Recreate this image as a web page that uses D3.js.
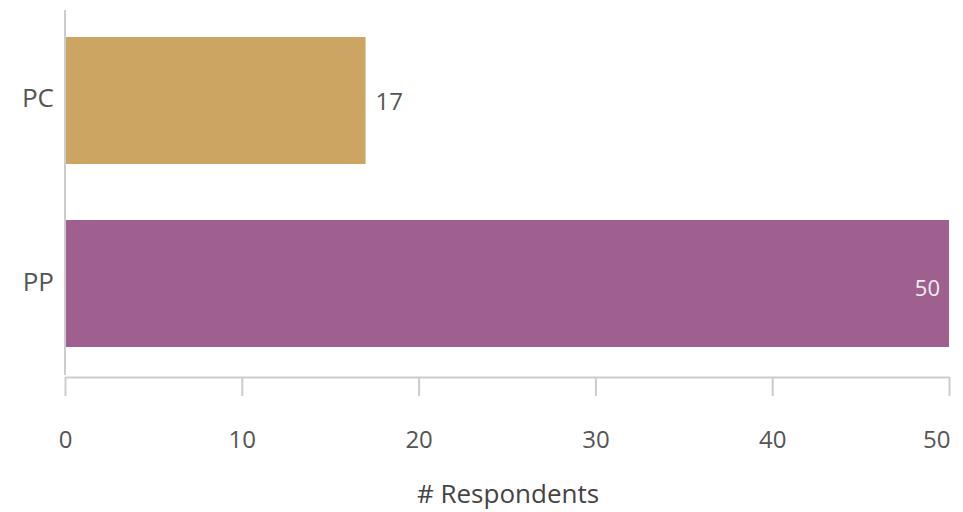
<!DOCTYPE html>
<html><head><meta charset="utf-8">
<script src="https://cdn.jsdelivr.net/npm/d3@7/dist/d3.min.js"></script>
<style>body{margin:0;background:#fff;}text{font-family:"Open Sans","Noto Sans",sans-serif;}</style>
</head><body>
<svg id="c" width="963" height="512"></svg>
<script>
const categories = ["PC", "PP"];
const values = [17, 50];
const colors = ["#CDA563", "#A0608F"];
const xTicks = [0, 10, 20, 30, 40, 50];
const xTitle = "# Respondents";

const FONT = "\"Open Sans\",\"Noto Sans\",sans-serif";
const svg = d3.select("#c");
const x = d3.scaleLinear().domain([0, 50]).range([65, 949]);
const y = d3.scaleBand().domain(categories).range([10, 374]).paddingInner(0.306).paddingOuter(0.1475);

// bars
svg.selectAll("rect.bar").data(categories).join("rect")
  .attr("x", x(0)).attr("y", d => y(d))
  .attr("width", (d, i) => x(values[i]) - x(0))
  .attr("height", y.bandwidth())
  .attr("fill", (d, i) => colors[i]);

// y axis line
svg.append("line").attr("x1", 65).attr("x2", 65).attr("y1", 10).attr("y2", 375)
  .attr("stroke", "#cccccc").attr("stroke-width", 2);

// category labels
svg.selectAll("text.cat").data(categories).join("text")
  .attr("x", 54).attr("y", d => y(d) + y.bandwidth() / 2 + 7)
  .attr("text-anchor", "end")
  .attr("font-size", 26).attr("fill", "#555").text(d => d);

// value labels
svg.selectAll("text.val").data(categories).join("text")
  .attr("x", (d, i) => values[i] === 50 ? x(values[i]) - 9 : x(values[i]) + 10)
  .attr("y", (d, i) => y(d) + y.bandwidth() / 2 + (values[i] === 50 ? 12 : 10))
  .attr("text-anchor", (d, i) => values[i] === 50 ? "end" : "start")
  .attr("font-size", (d, i) => values[i] === 50 ? 22 : 24)
  .attr("fill", (d, i) => values[i] === 50 ? "#eeeeee" : "#555")
  .text((d, i) => values[i]);

// x axis
const xa = svg.append("g").attr("transform", "translate(0,377)")
  .call(d3.axisBottom(x).tickValues(xTicks).tickSize(19).tickSizeOuter(0));
xa.select(".domain").attr("stroke", "#cccccc").attr("stroke-width", 2);
xa.selectAll(".tick line").attr("stroke", "#cccccc").attr("stroke-width", 2);
xa.selectAll(".tick text").attr("font-size", 24).attr("fill", "#555")
  .attr("font-family", FONT).attr("y", 71).attr("dy", 0)
  .attr("text-anchor", d => d === 50 ? "end" : "middle")
  .attr("x", d => d === 50 ? 1 : 0);

svg.append("text").attr("x", 508).attr("y", 503)
  .attr("text-anchor", "middle").attr("font-size", 26).attr("fill", "#444").text(xTitle);
</script>
</body></html>
